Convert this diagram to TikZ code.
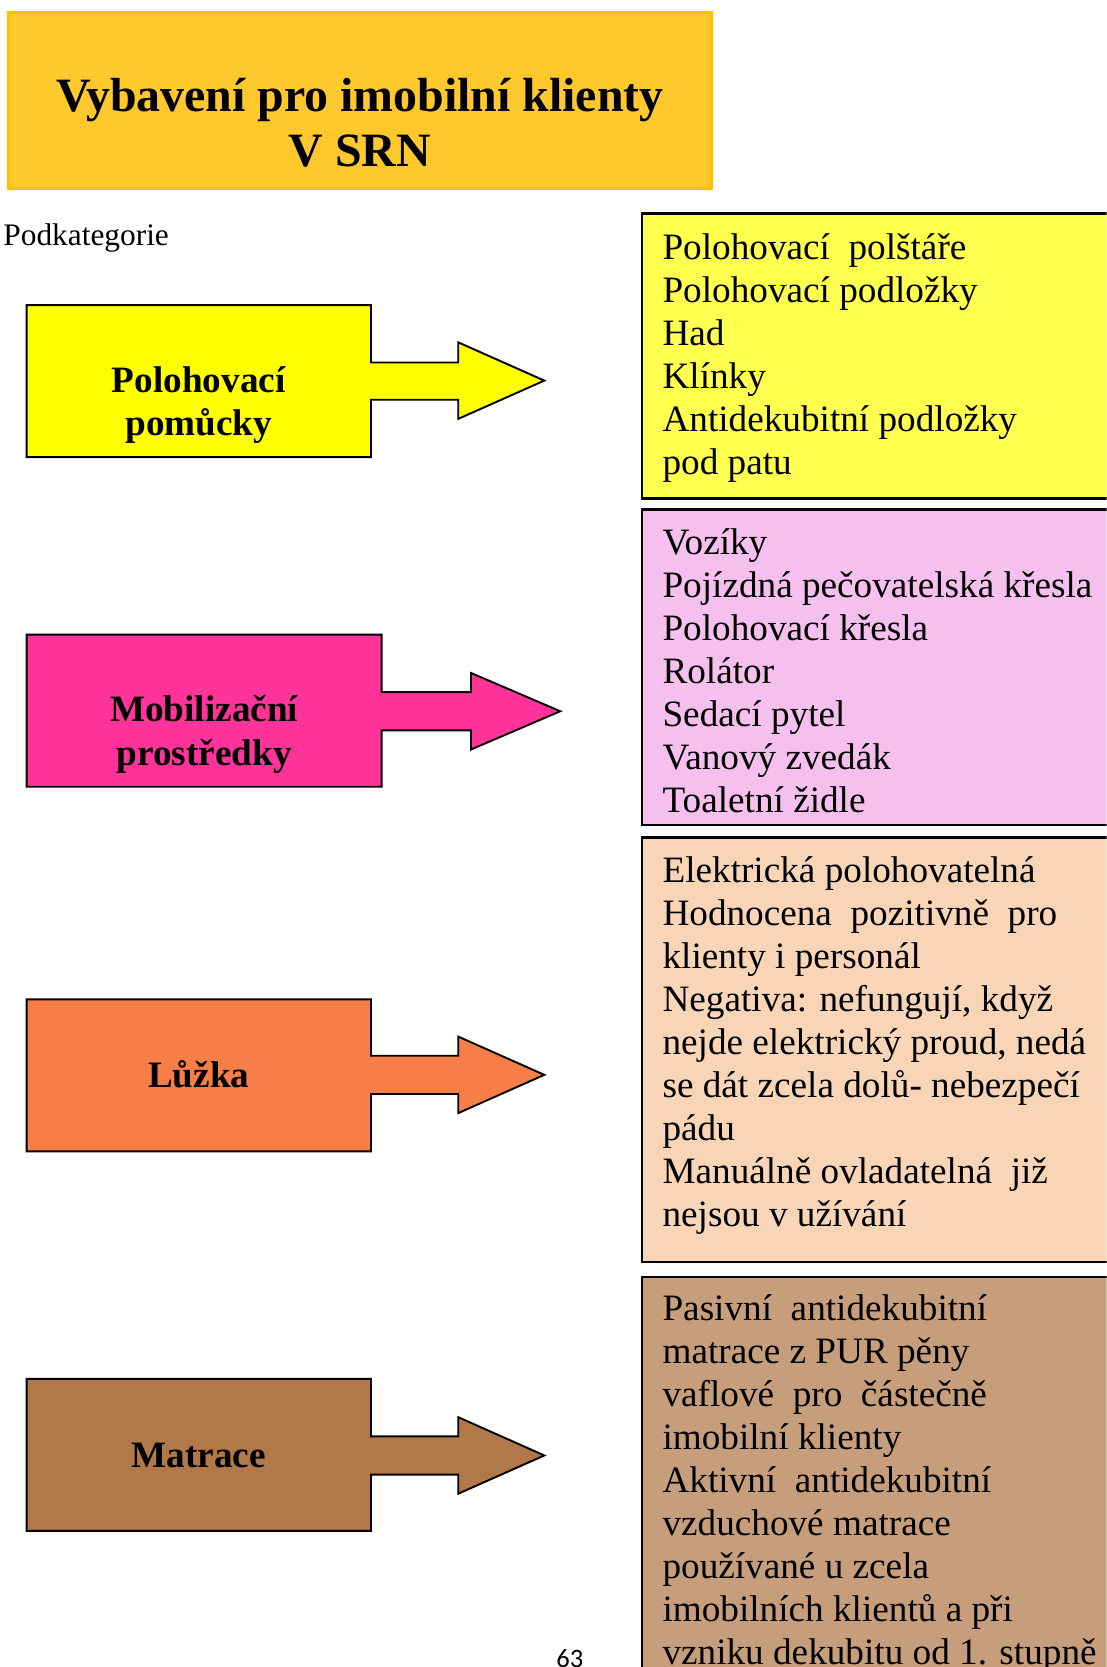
\documentclass[tikz,border=0pt]{standalone}
\usepackage{fontspec}
\setmainfont{Liberation Serif}
\newfontfamily\pagefont{Carlito}
\definecolor{titlefill}{HTML}{FFC82C}
\definecolor{titleline}{HTML}{FFC000}
\definecolor{yelA}{HTML}{FFFF00}
\definecolor{yelB}{HTML}{FFFF50}
\definecolor{pinkA}{HTML}{FF3399}
\definecolor{pinkB}{HTML}{F5C0EE}
\definecolor{oraA}{HTML}{F87E47}
\definecolor{oraB}{HTML}{F9D5B7}
\definecolor{broA}{HTML}{B1784A}
\definecolor{broB}{HTML}{C79E7C}
\tikzset{
  catshape/.style={draw=black, line width=1.8pt, line join=miter},
  listbox/.style={draw=black, line width=2.5pt},
  cattext/.style={anchor=base, inner sep=0pt, font=\fontsize{35}{41}\selectfont\bfseries},
  item/.style={anchor=base west, inner sep=0pt, font=\fontsize{35}{40}\selectfont},
  titletext/.style={anchor=base, inner sep=0pt, font=\fontsize{45}{52}\selectfont\bfseries}
}
\begin{document}
\begin{tikzpicture}[x=1pt,y=-1pt]
\useasboundingbox (0,0) rectangle (1041,1568);
\clip (0,0) rectangle (1041,1568);
\fill[white] (0,0) rectangle (1041,1568);

% title
\draw[fill=titlefill, draw=titleline, line width=3pt] (8,12) rectangle (669,177);
\node[titletext] (title1) at (338.5,105) {Vybavení pro imobilní klienty};
\node[titletext] (title2) at (338.5,157) {V SRN};

\node[anchor=base west, inner sep=0pt, font=\fontsize{29.5}{33}\selectfont] (sub) at (3,231) {Podkategorie};

% category arrows
\draw[catshape, fill=yelA] (25,287) -- (349,287) -- (349,341) -- (431,341) -- (431,322) -- (512,358)
  -- (431,394) -- (431,376) -- (349,376) -- (349,430) -- (25,430) -- cycle;
\node[cattext] (c1a) at (187,369) {Polohovací};
\node[cattext] (c1b) at (187,410) {pomůcky};

\draw[catshape, fill=pinkA] (25,597) -- (359,597) -- (359,651) -- (443,651) -- (443,633) -- (527,669)
  -- (443,705) -- (443,687) -- (359,687) -- (359,740) -- (25,740) -- cycle;
\node[cattext] (c2a) at (192,679) {Mobilizační};
\node[cattext] (c2b) at (192,720) {prostředky};

\draw[catshape, fill=oraA] (25,940) -- (349,940) -- (349,993) -- (431,993) -- (431,975) -- (512,1011)
  -- (431,1047) -- (431,1029) -- (349,1029) -- (349,1083) -- (25,1083) -- cycle;
\node[cattext] (c3) at (187,1023) {Lůžka};

\draw[catshape, fill=broA] (25,1297) -- (349,1297) -- (349,1351) -- (431,1351) -- (431,1333) -- (512,1369)
  -- (431,1405) -- (431,1387) -- (349,1387) -- (349,1440) -- (25,1440) -- cycle;
\node[cattext] (c4) at (187,1380) {Matrace};

% list boxes
\draw[listbox, fill=yelB] (604,201) rectangle (1070,469);
\foreach \t [count=\i] in {{Polohovací~ polštáře},{Polohovací podložky},{Had},{Klínky},{Antidekubitní podložky},{pod patu}}
  \node[item] (ya\i) at (623,{244+40.4*(\i-1)}) {\t};

\draw[listbox, fill=pinkB] (604,479) rectangle (1070,776);
\foreach \t [count=\i] in {{Vozíky},{Pojízdná pečovatelská křesla},{Polohovací křesla},{Rolátor},{Sedací pytel},{Vanový zvedák},{Toaletní židle}}
  \node[item] (pb\i) at (623,{522+40.4*(\i-1)}) {\t};

\draw[listbox, fill=oraB] (604,788) rectangle (1070,1187);
\foreach \t [count=\i] in {{Elektrická polohovatelná},{Hodnocena~ pozitivně~ pro},{klienty i personál},{Negativa: nefungují, když},{nejde elektrický proud, nedá},{se dát zcela dolů- nebezpečí},{pádu},{Manuálně ovladatelná~ již},{nejsou v užívání}}
  \node[item] (oc\i) at (623,{830+40.4*(\i-1)}) {\t};

\draw[listbox, fill=broB] (604,1201) rectangle (1070,1620);
\foreach \t [count=\i] in {{Pasivní~ antidekubitní},{matrace z PUR pěny},{vaflové~ pro~ částečně},{imobilní klienty},{Aktivní~ antidekubitní},{vzduchové matrace},{používané u zcela},{imobilních klientů a při},{vzniku dekubitu od 1. stupně}}
  \node[item] (bd\i) at (623,{1242+40.4*(\i-1)}) {\t};

\node[anchor=base, inner sep=0pt, font=\fontsize{25}{29}\selectfont\pagefont] (page) at (536,1568) {63};
\end{tikzpicture}
\end{document}
